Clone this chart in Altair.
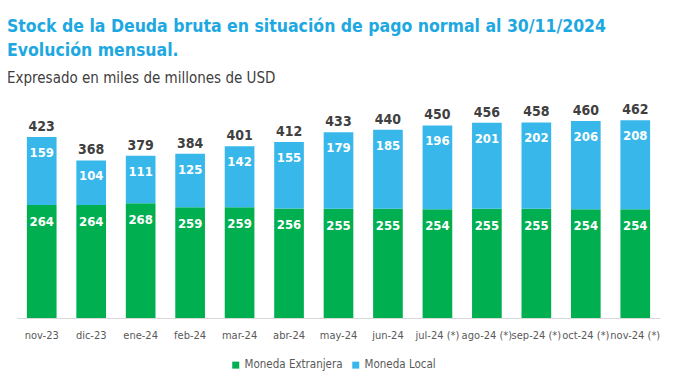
import altair as alt
import pandas as pd

meses = ["nov-23", "dic-23", "ene-24", "feb-24", "mar-24", "abr-24", "may-24",
         "jun-24", "jul-24 (*)", "ago-24 (*)", "sep-24 (*)", "oct-24 (*)", "nov-24 (*)"]
extranjera = [264, 264, 268, 259, 259, 256, 255, 255, 254, 255, 255, 254, 254]
local = [159, 104, 111, 125, 142, 155, 179, 185, 196, 201, 202, 206, 208]
totales = [423, 368, 379, 384, 401, 412, 433, 440, 450, 456, 458, 460, 462]

series = ["Moneda Extranjera", "Moneda Local"]
colores = ["#00AF50", "#38B8EA"]

rows = []
for i, m in enumerate(meses):
    rows.append({"mes": m, "serie": series[0], "valor": extranjera[i], "orden": 0})
    rows.append({"mes": m, "serie": series[1], "valor": local[i], "orden": 1})
long = pd.DataFrame(rows)
wide = pd.DataFrame({"mes": meses, "ext": extranjera, "loc": local, "tot": totales})
wide["cima"] = wide["ext"] + wide["loc"]

FONT = "DejaVu Sans Condensed, Roboto Condensed, Roboto"

x = alt.X("mes:N", sort=meses, title=None,
          scale=alt.Scale(paddingInner=0.4, paddingOuter=0.2),
          axis=alt.Axis(labelAngle=0, ticks=False, domainColor="#d9d9d9", domainWidth=1,
                        labelColor="#595959", labelFontSize=11, labelPadding=11,
                        labelOverlap=False, labelFont=FONT))
yscale = alt.Scale(domain=[0, 500])

bars = alt.Chart(long).mark_bar().encode(
    x=x,
    y=alt.Y("valor:Q", stack="zero", scale=yscale, axis=None),
    color=alt.Color("serie:N", scale=alt.Scale(domain=series, range=colores),
                    legend=alt.Legend(title=None, orient="none", legendX=213, legendY=255,
                                      direction="horizontal", symbolType="square",
                                      symbolSize=49, symbolStrokeWidth=0,
                                      labelFontSize=11.5, labelColor="#595959",
                                      labelFont=FONT, columnPadding=7, labelOffset=3)),
    order=alt.Order("orden:Q"),
)

base = alt.Chart(wide).encode(x=alt.X("mes:N", sort=meses))

lab_ext = base.mark_text(color="white", fontWeight="bold", fontSize=13, dy=17, font=FONT).encode(
    y=alt.Y("ext:Q", scale=yscale), text="ext:Q")
lab_loc = base.mark_text(color="white", fontWeight="bold", fontSize=13, dy=16, font=FONT).encode(
    y=alt.Y("cima:Q", scale=yscale), text="loc:Q")
lab_tot = base.mark_text(color="#404040", fontWeight="bold", fontSize=14, dy=-10, font=FONT).encode(
    y=alt.Y("cima:Q", scale=yscale), text="tot:Q")

chart = alt.layer(bars, lab_ext, lab_loc, lab_tot).properties(
    width=643, height=214,
    title=alt.Title(
        text=["Stock de la Deuda bruta en situación de pago normal al 30/11/2024",
              "Evolución mensual."],
        subtitle="Expresado en miles de millones de USD",
        anchor="start", dx=-10, font=FONT, fontSize=17.5, fontWeight="bold",
        color="#1DA8E1", lineHeight=24, subtitleFont=FONT, subtitleFontSize=15,
        subtitleColor="#404040", subtitlePadding=12, offset=17),
    autosize=alt.AutoSizeParams(type="none"),
    padding={"left": 9, "top": 96, "right": 5, "bottom": 55},
).configure_view(stroke=None)

chart.save("out.html", embed_options={"renderer": "svg", "actions": False})
